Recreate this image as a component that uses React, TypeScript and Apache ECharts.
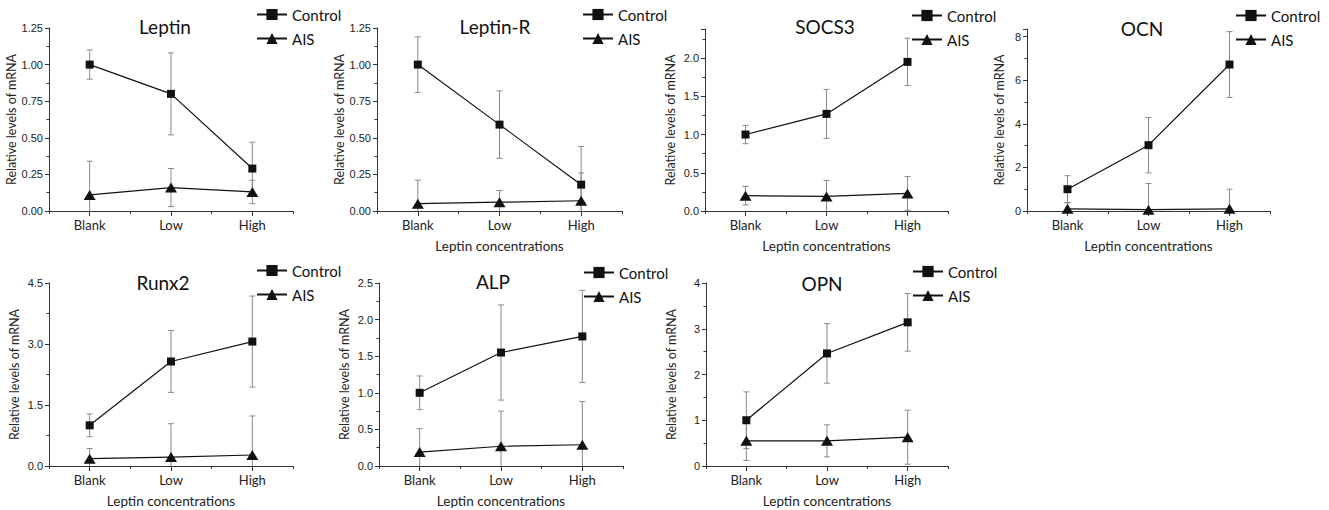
import React, { useEffect, useRef } from "react";
import * as echarts from "echarts";

const categories = ["Blank", "Low", "High"];
const panelTitles = ["Leptin", "Leptin-R", "SOCS3", "OCN", "Runx2", "ALP", "OPN"];
const seriesNames = ["Control", "AIS"];
const yAxisName = "Relative levels of mRNA";
const xAxisName = "Leptin concentrations";

// Means and standard deviations per gene
const leptinControl = [1.0, 0.8, 0.29];
const leptinControlSd = [0.1, 0.28, 0.18];
const leptinAis = [0.11, 0.16, 0.13];
const leptinAisSd = [0.23, 0.13, 0.08];

const leptinRControl = [1.0, 0.59, 0.18];
const leptinRControlSd = [0.19, 0.23, 0.26];
const leptinRAis = [0.05, 0.06, 0.07];
const leptinRAisSd = [0.16, 0.08, 0.19];

const socs3Control = [1.0, 1.27, 1.95];
const socs3ControlSd = [0.12, 0.32, 0.31];
const socs3Ais = [0.2, 0.19, 0.23];
const socs3AisSd = [0.12, 0.21, 0.22];

const ocnControl = [1.0, 3.02, 6.72];
const ocnControlSd = [0.62, 1.27, 1.51];
const ocnAis = [0.1, 0.06, 0.1];
const ocnAisSd = [0.28, 1.2, 0.9];

const runx2Control = [1.0, 2.57, 3.06];
const runx2ControlSd = [0.28, 0.76, 1.12];
const runx2Ais = [0.18, 0.22, 0.27];
const runx2AisSd = [0.25, 0.82, 0.96];

const alpControl = [1.0, 1.55, 1.77];
const alpControlSd = [0.23, 0.65, 0.63];
const alpAis = [0.19, 0.27, 0.29];
const alpAisSd = [0.32, 0.48, 0.59];

const opnControl = [1.0, 2.46, 3.14];
const opnControlSd = [0.62, 0.65, 0.63];
const opnAis = [0.55, 0.55, 0.63];
const opnAisSd = [0.43, 0.35, 0.59];

// y axis extents / tick intervals
const yMax = [1.25, 1.25, 2.38, 8.35, 4.5, 2.5, 4];
const yInterval = [0.25, 0.25, 0.5, 2, 1.5, 0.5, 1];

const panelData = [
  [leptinControl, leptinControlSd, leptinAis, leptinAisSd],
  [leptinRControl, leptinRControlSd, leptinRAis, leptinRAisSd],
  [socs3Control, socs3ControlSd, socs3Ais, socs3AisSd],
  [ocnControl, ocnControlSd, ocnAis, ocnAisSd],
  [runx2Control, runx2ControlSd, runx2Ais, runx2AisSd],
  [alpControl, alpControlSd, alpAis, alpAisSd],
  [opnControl, opnControlSd, opnAis, opnAisSd],
];

// layout
const grids = [
  { left: 49, top: 28, width: 244, height: 183 },
  { left: 377, top: 28, width: 245, height: 183 },
  { left: 705, top: 29, width: 243, height: 182 },
  { left: 1027, top: 29, width: 243, height: 182 },
  { left: 49, top: 283, width: 244, height: 183 },
  { left: 379, top: 283, width: 244, height: 183 },
  { left: 706, top: 283, width: 242, height: 183 },
];
const titlePos = [
  [165, 28], [495, 28], [825, 28], [1142, 30], [163, 284], [493, 283], [822, 285],
];
const legendPos = [
  [256, 14], [582, 14], [911, 15], [1235, 15], [256, 270], [583, 272], [912, 271],
];
const yNameGap = [28, 26, 28, 21, 28, 28, 28];
const showXName = [false, true, true, true, true, true, true];

const LABEL_FONT = "'Liberation Sans', Arial, sans-serif";
const TEXT_FONT = "Lato, 'Open Sans', sans-serif";
const INK = "#111";
const AXIS = "#333";
const ERR = "#8a8a8a";

function errorRender(params: any, api: any) {
  const x = api.value(0);
  const m = api.value(1);
  const sd = api.value(2);
  const hi = m + sd;
  let lo = m - sd;
  const clipped = lo < 0;
  if (clipped) lo = 0;
  const pHi = api.coord([x, hi]);
  const pLo = api.coord([x, lo]);
  const cw = 3;
  const style = { stroke: ERR, lineWidth: 1 };
  const children: any[] = [
    { type: "line", shape: { x1: pHi[0], y1: pHi[1], x2: pLo[0], y2: pLo[1] }, style },
    { type: "line", shape: { x1: pHi[0] - cw, y1: pHi[1], x2: pHi[0] + cw, y2: pHi[1] }, style },
  ];
  if (!clipped) {
    children.push({ type: "line", shape: { x1: pLo[0] - cw, y1: pLo[1], x2: pLo[0] + cw, y2: pLo[1] }, style });
  }
  return { type: "group", children };
}

function buildOption() {
  const title: any[] = [];
  const legend: any[] = [];
  const grid: any[] = [];
  const xAxis: any[] = [];
  const yAxis: any[] = [];
  const series: any[] = [];

  panelTitles.forEach((name, i) => {
    grid.push({ ...grids[i], containLabel: false });
    title.push({
      text: name,
      left: titlePos[i][0],
      top: titlePos[i][1] - 11,
      padding: 0,
      textAlign: "center",
      textStyle: { fontFamily: TEXT_FONT, fontSize: 19, fontWeight: "normal", color: INK },
    });
    legend.push({
      data: seriesNames,
      orient: "vertical",
      left: legendPos[i][0],
      top: legendPos[i][1] - 7,
      padding: 0,
      itemWidth: 30,
      itemHeight: 14,
      itemGap: 9,
      textStyle: { fontFamily: TEXT_FONT, fontSize: 15, color: INK },
    });
    xAxis.push({
      type: "category",
      gridIndex: i,
      data: categories,
      boundaryGap: true,
      name: showXName[i] ? xAxisName : "",
      nameLocation: "middle",
      nameGap: 28,
      nameTextStyle: { fontFamily: TEXT_FONT, fontSize: 13.5, color: "#222" },
      axisLine: { show: true, lineStyle: { color: AXIS, width: 1 } },
      axisTick: { show: true, alignWithLabel: true, length: 5, lineStyle: { color: AXIS } },
      axisLabel: { margin: 7, fontFamily: TEXT_FONT, fontSize: 13, color: "#222" },
      splitLine: { show: false },
    });
    xAxis.push({
      type: "category",
      gridIndex: i,
      data: categories,
      boundaryGap: true,
      position: "bottom",
      axisLine: { show: false },
      axisTick: { show: true, alignWithLabel: false, length: 3, lineStyle: { color: AXIS } },
      axisLabel: { show: false },
      splitLine: { show: false },
    });
    yAxis.push({
      type: "value",
      gridIndex: i,
      min: 0,
      max: yMax[i],
      interval: yInterval[i],
      name: yAxisName,
      nameLocation: "middle",
      nameGap: yNameGap[i],
      nameRotate: 90,
      nameTextStyle: { fontFamily: TEXT_FONT, fontSize: 12.5, color: "#222" },
      axisLine: { show: true, lineStyle: { color: AXIS, width: 1 } },
      axisTick: { show: true, length: 4, lineStyle: { color: AXIS } },
      minorTick: { show: true, splitNumber: 2, length: 2.5, lineStyle: { color: AXIS } },
      axisLabel: {
        margin: 6,
        fontFamily: LABEL_FONT,
        fontSize: 11,
        color: "#222",
        showMaxLabel: yMax[i] % yInterval[i] === 0 ? true : false,
        formatter: (v: number) => {
          const dec = yInterval[i] === 0.25 ? 2 : yInterval[i] % 1 === 0 ? 0 : 1;
          return v.toFixed(dec);
        },
      },
      splitLine: { show: false },
      minorSplitLine: { show: false },
    });

    const [ctrl, ctrlSd, ais, aisSd] = panelData[i];
    const xIdx = i * 2;
    series.push({
      type: "custom",
      name: "ctrl-err",
      xAxisIndex: xIdx,
      yAxisIndex: i,
      renderItem: errorRender,
      data: ctrl.map((v, k) => [k, v, ctrlSd[k]]),
      encode: { x: 0, y: 1 },
      z: 1,
      silent: true,
    });
    series.push({
      type: "custom",
      name: "ais-err",
      xAxisIndex: xIdx,
      yAxisIndex: i,
      renderItem: errorRender,
      data: ais.map((v, k) => [k, v, aisSd[k]]),
      encode: { x: 0, y: 1 },
      z: 1,
      silent: true,
    });
    series.push({
      type: "line",
      name: "Control",
      xAxisIndex: xIdx,
      yAxisIndex: i,
      data: ctrl,
      symbol: "rect",
      symbolSize: 8,
      lineStyle: { color: INK, width: 1.2 },
      itemStyle: { color: INK },
      z: 3,
    });
    series.push({
      type: "line",
      name: "AIS",
      xAxisIndex: xIdx,
      yAxisIndex: i,
      data: ais,
      symbol: "triangle",
      symbolSize: [12, 10],
      lineStyle: { color: INK, width: 1.2 },
      itemStyle: { color: INK },
      z: 3,
    });
  });

  return {
    animation: false,
    backgroundColor: "#ffffff",
    title,
    legend,
    grid,
    xAxis,
    yAxis,
    series,
  };
}

export default function App() {
  const ref = useRef<HTMLDivElement>(null);
  useEffect(() => {
    if (!ref.current) return;
    const chart = echarts.init(ref.current, undefined, { renderer: "svg" });
    chart.setOption(buildOption() as any);
    return () => chart.dispose();
  }, []);
  return (
    <div
      ref={ref}
      style={{ position: "fixed", left: 0, top: 0, width: 1329, height: 510, background: "#fff" }}
    />
  );
}
